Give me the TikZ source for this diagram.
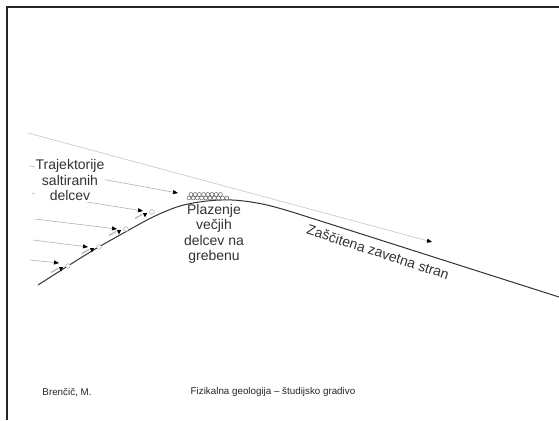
\documentclass[tikz,border=0pt]{standalone}
\usepackage{fontspec}
\setmainfont{Liberation Sans}
\usetikzlibrary{arrows.meta}

% saltating grain landing on the slope: tip, trace and bounced grain
\newcommand{\udar}[2]{%
  \fill[black] (#1-2.2,#2-2) -- (#1+2.2,#2-2) -- (#1,#2+2.5) -- cycle;
  \draw[gray!55, line width=1.4pt] (#1-10,#2+3.5) -- (#1-3,#2-0.5);
  \draw[gray!70, fill=white, line width=0.5pt] (#1+7,#2-3) circle (2.3);
}

\begin{document}
\begin{tikzpicture}[x=1pt, y=-1pt,
    label/.style={font=\fontsize{14}{15.5}\selectfont, text=black!80, align=center, inner sep=1pt},
    foot/.style={font=\fontsize{9.8}{11}\selectfont, text=black!85, inner sep=0pt},
    traj/.style={draw=gray!60, line width=0.6pt, -{Triangle[length=5pt, width=4pt, color=black]}},
    tla/.style={draw=black!80, line width=1pt},
    zrno/.style={draw=gray!60!black, fill=white, line width=0.45pt}]

    \useasboundingbox (0,0) rectangle (559,420);
    \fill[white] (0,0) rectangle (559,420);

    % frame (top and left edge only)
    \draw[black!85, line width=2.2pt] (7,420) -- (7,7) -- (559,7);

    % trajectories
    \coordinate (t0) at (28,133);  \coordinate (h0) at (432,242);
    \coordinate (t1) at (30,166);  \coordinate (h1) at (178,193);
    \coordinate (t2) at (32,193);  \coordinate (h2) at (143,211);
    \coordinate (t3) at (35,219);  \coordinate (h3) at (117,229);
    \coordinate (t4) at (33,240);  \coordinate (h4) at (88,247);
    \coordinate (t5) at (30,260);  \coordinate (h5) at (59,263);

    \path
        (t0) edge[traj, draw=gray!45] (h0)
        (t1) edge[traj] (h1)
        (t2) edge[traj] (h2)
        (t3) edge[traj] (h3)
        (t4) edge[traj] (h4)
        (t5) edge[traj] (h5)
        ;

    % ground profile with the ridge
    \draw[tla] plot[smooth, tension=0.55] coordinates {(38,285) (87,254) (120,235)
        (153,217) (180,206) (207,201) (232,200) (257,203) (282,209) (330,224) (559,297)};

    \udar{145}{215}
    \udar{119}{232}
    \udar{92}{250}
    \udar{61}{269}

    % creeping grains on the crest
    \foreach \x in {189,193.2,...,229} \draw[zrno] (\x,198) circle (2);
    \foreach \x in {191,195.2,...,223} \draw[zrno] (\x,194.5) circle (2);

    \node[label, fill=white] (traj) at (70,180) {Trajektorije\\saltiranih\\delcev};
    \node[label] (plaz) at (214,234) {Plazenje\\večjih\\delcev na\\grebenu};
    \node[label, rotate=-18] (zav) at (378,252) {Zaščitena zavetna stran};

    \node[foot] (avtor) at (67,393) {Brenčič, M.};
    \node[foot] (naslov) at (273,392) {Fizikalna geologija – študijsko gradivo};
\end{tikzpicture}
\end{document}
